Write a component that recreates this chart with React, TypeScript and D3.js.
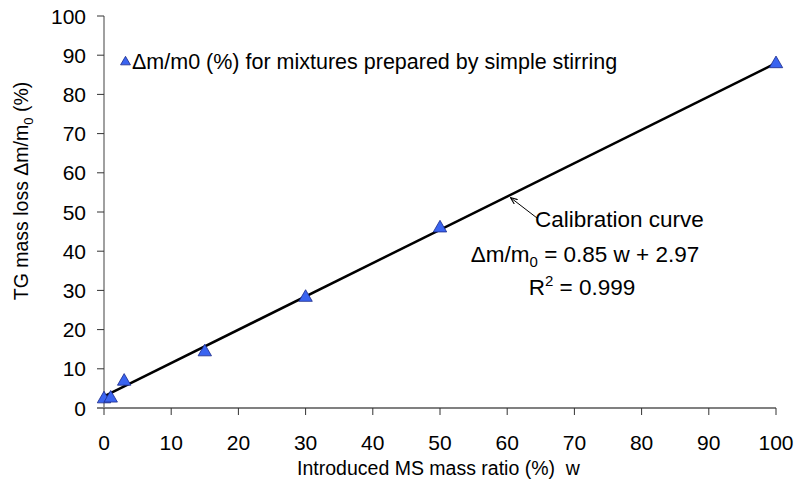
import React from "react";
import * as d3 from "d3";

const ratioW = [0, 1, 3, 15, 30, 50, 100];
const massLoss = [2.3, 2.5, 6.8, 14.3, 28.2, 45.9, 87.8];
const fitSlope = 0.85;
const fitIntercept = 2.97;
const xTicks = [0, 10, 20, 30, 40, 50, 60, 70, 80, 90, 100];
const yTicks = [0, 10, 20, 30, 40, 50, 60, 70, 80, 90, 100];

const W = 798;
const H = 488;
const FONT = "'Liberation Sans', Arial, sans-serif";
const FS = 21;

export default function App() {
  const x = d3.scaleLinear().domain([0, 100]).range([104, 776]);
  const y = d3.scaleLinear().domain([0, 100]).range([408, 16]);
  const tri = d3.symbol().type(d3.symbolTriangle).size(78)();
  const triLeg = d3.symbol().type(d3.symbolTriangle).size(42)();
  const line = d3
    .line<number>()
    .x((d) => x(d))
    .y((d) => y(fitSlope * d + fitIntercept));

  return (
    <svg
      width={W}
      height={H}
      style={{ position: "absolute", left: 0, top: 0, background: "#fff" }}
      fontFamily={FONT}
    >
      <defs>
        <marker id="arr" viewBox="0 0 10 10" refX="9" refY="5" markerWidth="7" markerHeight="7" orient="auto-start-reverse">
          <path d="M0,1 L10,5 L0,9" fill="none" stroke="#000" strokeWidth="1.5" />
        </marker>
      </defs>
      {/* y axis */}
      <line x1={x(0)} x2={x(0)} y1={y(100)} y2={y(0)} stroke="#808080" strokeWidth={1.5} />
      {yTicks.map((t) => (
        <g key={"y" + t}>
          <line x1={x(0) - 7} x2={x(0)} y1={y(t)} y2={y(t)} stroke="#333" strokeWidth={1} />
          <text x={86} y={y(t) + 7.5} textAnchor="end" fontSize={FS} fill="#000">
            {t}
          </text>
        </g>
      ))}
      {/* x axis */}
      <line x1={x(0) - 7} x2={x(100)} y1={y(0)} y2={y(0)} stroke="#808080" strokeWidth={2} />
      {xTicks.map((t) => (
        <g key={"x" + t}>
          <line x1={x(t)} x2={x(t)} y1={y(0)} y2={y(0) + 7} stroke="#333" strokeWidth={1} />
          <text x={x(t)} y={450} textAnchor="middle" fontSize={FS} fill="#000">
            {t}
          </text>
        </g>
      ))}
      {/* fit line */}
      <path d={line([0, 100]) || ""} fill="none" stroke="#000" strokeWidth={2.5} />
      {/* points */}
      {ratioW.map((w, i) => (
        <path
          key={"p" + i}
          d={tri || ""}
          transform={`translate(${x(w)},${y(massLoss[i])})`}
          fill="#3a64f0"
          stroke="#1a2a8a"
          strokeWidth={0.8}
        />
      ))}
      {/* legend */}
      <path d={triLeg || ""} transform="translate(125.5,62)" fill="#3a64f0" stroke="#1a2a8a" strokeWidth={0.8} />
      <text x={132} y={69} fontSize={21.5} fill="#000">
        Δm/m0 (%) for mixtures prepared by simple stirring
      </text>
      {/* annotation */}
      <line x1={537} y1={218} x2={511} y2={198} stroke="#000" strokeWidth={1} markerEnd="url(#arr)" />
      <text x={535} y={227} fontSize={22.5} fill="#000">
        Calibration curve
      </text>
      <text x={585} y={262} textAnchor="middle" fontSize={22.5} fill="#000">
        Δm/m<tspan fontSize={15} dy={5}>0</tspan>
        <tspan dy={-5}> = 0.85 w + 2.97</tspan>
      </text>
      <text x={582} y={295} textAnchor="middle" fontSize={22.5} fill="#000">
        R<tspan fontSize={15} dy={-9}>2</tspan>
        <tspan dy={9}> = 0.999</tspan>
      </text>
      {/* axis titles */}
      <text x={438.5} y={475} textAnchor="middle" fontSize={19.5} fill="#000" style={{ whiteSpace: "pre" }}>
        {"Introduced MS mass ratio (%)  w"}
      </text>
      <text transform="translate(28,191) rotate(-90)" textAnchor="middle" fontSize={19.5} fill="#000">
        TG mass loss Δm/m<tspan fontSize={13} dy={5}>0</tspan>
        <tspan dy={-5}> (%)</tspan>
      </text>
    </svg>
  );
}
